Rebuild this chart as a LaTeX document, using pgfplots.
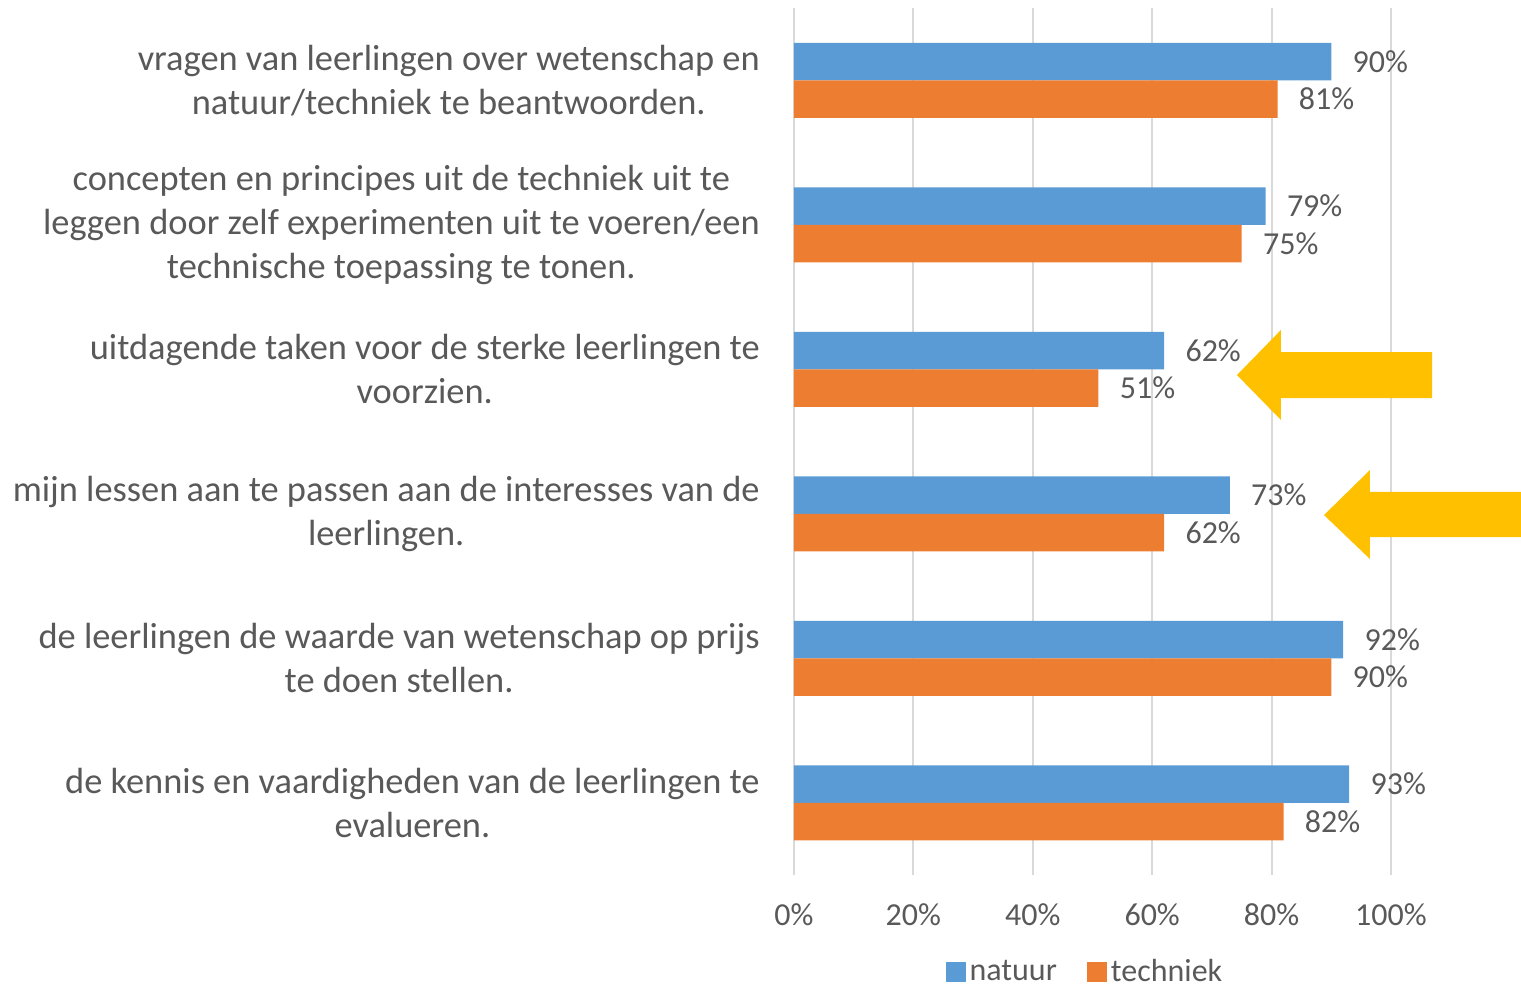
\documentclass[border=0pt]{standalone}
\usepackage{pgfplots}
\pgfplotsset{compat=1.18}
\usepackage{fontspec}
\setmainfont{Carlito}
\definecolor{cblue}{HTML}{5B9BD5}
\definecolor{corange}{HTML}{ED7D31}
\definecolor{cgrid}{HTML}{D9D9D9}
\definecolor{ctext}{HTML}{595959}
\definecolor{cyellow}{HTML}{FFC000}
\begin{document}
\begin{tikzpicture}
\useasboundingbox (-397pt,-57.5pt) rectangle (363.5pt,437.5pt);
\begin{axis}[
  at={(0,0)}, anchor=south west,
  scale only axis,
  width=298.5pt, height=433.5pt,
  xbar=0pt, bar width=18.75pt,
  xmin=0, xmax=100,
  ymin=-0.5, ymax=5.5,
  y dir=reverse,
  ytick={0,1,2,3,4,5},
  yticklabels={
    {vragen van leerlingen over wetenschap en\\natuur/techniek te beantwoorden.},
    {concepten en principes uit de techniek uit te\\leggen door zelf experimenten uit te voeren/een\\technische toepassing te tonen.},
    {uitdagende taken voor de sterke leerlingen te\\voorzien.},
    {mijn lessen aan te passen aan de interesses van de\\leerlingen.},
    {de leerlingen de waarde van wetenschap op prijs\\te doen stellen.},
    {de kennis en vaardigheden van de leerlingen te\\evalueren.}
  },
  yticklabel style={align=center, font=\fontsize{18.2}{22}\selectfont, text=ctext, inner sep=0pt, anchor=east, xshift=-17pt},
  xtick={0,20,40,60,80,100},
  xticklabels={0\%,20\%,40\%,60\%,80\%,100\%},
  xticklabel style={font=\fontsize{16}{19}\selectfont, text=ctext, inner sep=0pt, anchor=center, yshift=-20pt},
  xmajorgrids,
  grid style={draw=cgrid, line width=1pt},
  axis line style={draw=none},
  major tick length=0pt,
  clip=false,
  nodes near coords={\pgfmathprintnumber[assume math mode=true]{\pgfplotspointmeta}\%},
  nodes near coords style={font=\fontsize{16}{19}\selectfont, text=ctext, anchor=west, inner sep=0pt, xshift=10.5pt},
  legend style={at={(0.489,-0.112)}, anchor=center, draw=none, fill=none,
    legend columns=2, font=\fontsize{16}{19}\selectfont, text=ctext,
    /tikz/every even column/.append style={column sep=13pt}},
  legend image code/.code={\fill[#1,draw=none] (0pt,-5pt) rectangle (10pt,5pt);},
]
\addplot[fill=cblue, draw=none, bar shift=9.375pt] coordinates {(90,0) (79,1) (62,2) (73,3) (92,4) (93,5)};
\addplot[fill=corange, draw=none, bar shift=-9.375pt] coordinates {(81,0) (75,1) (51,2) (62,3) (90,4) (82,5)};
\legend{natuur, techniek}
\fill[cyellow] (axis cs:74.2,2.040) -- (axis cs:81.57,1.728) -- (axis cs:81.57,1.881) -- (axis cs:106.87,1.881) -- (axis cs:106.87,2.199) -- (axis cs:81.57,2.199) -- (axis cs:81.57,2.351) -- cycle;
\fill[cyellow] (axis cs:88.78,3.009) -- (axis cs:96.48,2.697) -- (axis cs:96.48,2.849) -- (axis cs:121.78,2.849) -- (axis cs:121.78,3.161) -- (axis cs:96.48,3.161) -- (axis cs:96.48,3.313) -- cycle;
\end{axis}
\end{tikzpicture}
\end{document}
